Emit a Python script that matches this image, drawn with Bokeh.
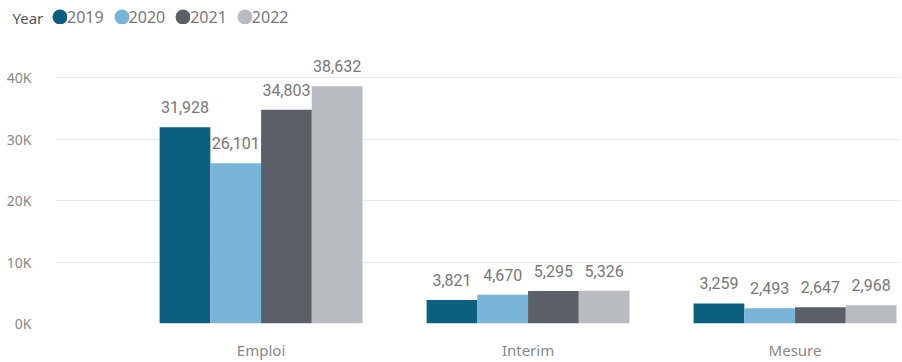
from bokeh.plotting import figure
from bokeh.layouts import column
from bokeh.models import (ColumnDataSource, Range1d, FixedTicker, Legend,
                          LegendItem, Label)
from bokeh.transform import dodge
from bokeh.core.properties import value
from bokeh.embed import file_html
from bokeh.resources import INLINE

categories = ["Emploi", "Interim", "Mesure"]
years = ["2019", "2020", "2021", "2022"]
v2019 = [31928, 3821, 3259]
v2020 = [26101, 4670, 2493]
v2021 = [34803, 5295, 2647]
v2022 = [38632, 5326, 2968]
y_ticks = [0, 10000, 20000, 30000, 40000]
y_tick_labels = ["0K", "10K", "20K", "30K", "40K"]
colors = ["#0b5f7f", "#78b3d8", "#5b5f67", "#b8bbc0"]

series = [v2019, v2020, v2021, v2022]
xi = list(range(len(categories)))
data = {"xi": xi}
for yr, s in zip(years, series):
    data["v" + yr] = s
    data["l" + yr] = [f"{v:,}" for v in s]
src = ColumnDataSource(data)

# ---- legend strip (top) ----
lg = figure(width=902, height=34, output_backend="svg", toolbar_location=None,
            x_range=Range1d(0, 902), y_range=Range1d(0, 34),
            x_axis_location=None, y_axis_location=None,
            min_border_left=0, min_border_right=0, min_border_top=0,
            min_border_bottom=0)
lg.outline_line_color = None
lg.grid.visible = False
nan = float("nan")
legend_items = []
for yr, c in zip(years, colors):
    dummy = lg.scatter(x=[nan], y=[nan], marker="circle", size=6,
                       fill_color=c, line_color=c, line_width=9)
    legend_items.append(LegendItem(label=yr, renderers=[dummy]))
legend = Legend(items=legend_items, orientation="horizontal",
                location=(52, 6.5), glyph_width=15, glyph_height=15,
                label_standoff=0, spacing=10, padding=0, margin=0,
                border_line_color=None, background_fill_alpha=0,
                label_text_font="Noto Sans", label_text_font_size="16px",
                label_text_color="#777777", label_text_baseline="middle",
                label_height=20)
lg.add_layout(legend)
lg.add_layout(Label(x=12, y=16.5, text="Year", text_baseline="middle",
                    text_font="Noto Sans", text_font_size="15px",
                    text_color="#555555"))

# ---- main chart ----
p = figure(width=902, height=328, output_backend="svg", toolbar_location=None,
           x_range=Range1d(-0.770, 2.395), y_range=Range1d(0, 47040),
           min_border_left=55, min_border_right=2, min_border_top=0,
           min_border_bottom=34)
p.outline_line_color = None

try:
    lg.frame_align = False
    p.frame_align = False
except Exception:
    pass

offsets = [-0.285, -0.095, 0.095, 0.285]
bar_w = 0.19
for yr, off, c in zip(years, offsets, colors):
    p.vbar(x=dodge("xi", off, range=p.x_range), top="v" + yr, width=bar_w,
           source=src, fill_color=c, line_color=None)
    p.text(x=dodge("xi", off, range=p.x_range), y="v" + yr, text="l" + yr,
           source=src, text_align="center", text_baseline="middle",
           y_offset=-20, text_font=value("Roboto"),
           text_font_size=value("16px"), text_color="#777777")

p.xgrid.visible = False
p.ygrid.grid_line_color = "#e8e8e8"
p.ygrid.grid_line_width = 1

p.yaxis.ticker = FixedTicker(ticks=y_ticks)
p.yaxis.major_label_overrides = {t: l for t, l in zip(y_ticks, y_tick_labels)}
p.xaxis.ticker = FixedTicker(ticks=xi)
p.xaxis.major_label_overrides = {i: c for i, c in zip(xi, categories)}

for ax in (p.xaxis[0], p.yaxis[0]):
    ax.axis_line_color = None
    ax.major_tick_line_color = None
    ax.minor_tick_line_color = None
    ax.major_label_text_font = "Noto Sans"
    ax.major_label_text_color = "#888888"
p.yaxis.major_label_text_font_size = "14px"
p.xaxis.major_label_text_font_size = "15px"
p.yaxis.major_label_standoff = 18
p.xaxis.major_label_standoff = 10

layout = column(lg, p, spacing=0)
open("out.html", "w").write(file_html(layout, INLINE))
